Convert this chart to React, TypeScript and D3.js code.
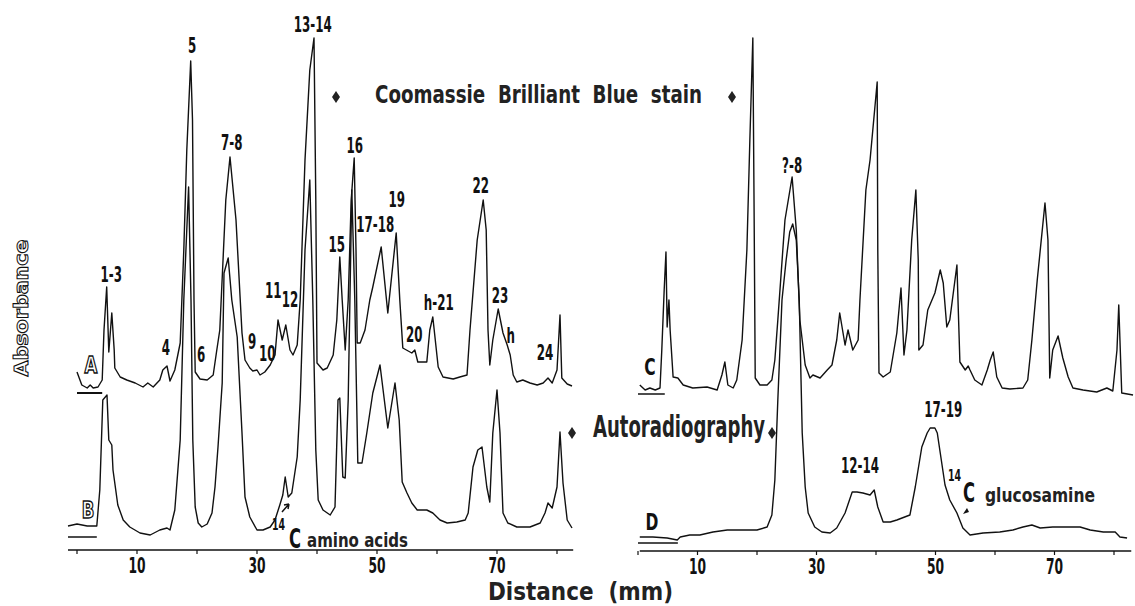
import * as d3 from 'd3'

const FONT = '"DejaVu Sans Condensed", "DejaVu Sans", sans-serif'

// distance (mm), absorbance (arbitrary units above each trace's own zero line)
const traceA: [number, number][] = [
  [0, 21], [0.8, 8], [1.7, 5], [2.2, 8], [2.7, 5], [3.5, 6], [4.2, 13], [4.5, 63], [4.95, 106],
  [5.3, 41], [5.8, 80], [6.2, 43], [6.3, 25], [7.2, 16], [8.3, 13], [9.7, 10], [11, 6], [11.8, 10],
  [12.7, 6], [13.8, 13], [14.3, 23], [15, 27], [15.5, 12], [16.3, 23], [17.2, 50], [17.8, 143],
  [18.3, 243], [18.95, 332], [19.25, 273], [19.5, 93], [19.7, 21], [20.5, 14], [21.7, 13], [22.7, 18],
  [23.3, 43], [23.8, 63], [24.8, 193], [25.5, 236], [26.5, 173], [27.5, 60], [28, 33], [28.8, 25],
  [29.3, 22], [30, 23], [30.5, 18], [31.3, 21], [32.2, 28], [33, 38], [33.5, 73], [34.2, 53],
  [34.8, 68], [35.5, 43], [36, 38], [36.7, 48], [37.2, 93], [38, 233], [38.8, 323], [39.5, 355],
  [39.8, 193], [40, 30], [41, 23], [41.7, 25], [42.7, 38], [43.3, 73], [43.8, 136], [44.2, 93],
  [44.7, 43], [45.2, 93], [45.7, 193], [46.2, 235], [46.5, 143], [46.7, 50], [47.2, 50], [48, 63],
  [48.8, 93], [49.3, 106], [50.7, 146], [51.8, 80], [53.2, 160], [53.8, 93], [54.3, 45], [55.8, 40],
  [56.3, 43], [56.8, 31], [58.3, 31], [58.8, 63], [59.3, 76], [60.2, 26], [61, 16], [62.7, 14],
  [63.8, 16], [65, 18], [65.5, 63], [66.7, 153], [67.7, 193], [68.2, 163], [68.5, 63], [68.8, 28],
  [69.3, 53], [70.2, 84], [71, 60], [71.7, 48], [72.2, 38], [72.7, 18], [73.3, 11], [74.3, 13],
  [75.5, 10], [76.7, 8], [77.7, 10], [78.5, 15], [79.2, 10], [80, 23], [80.5, 78], [80.8, 15],
  [81.7, 9], [82.5, 7],
]

const traceB: [number, number][] = [
  [-1.5, 11], [0, 13], [1.7, 11], [3.3, 11], [3.8, 47], [4.3, 137], [5, 142], [5.3, 97], [5.8, 92],
  [6, 67], [6.8, 32], [7.7, 17], [8.8, 10], [10.5, 4], [12.2, 2], [13.8, 7], [15, 9], [15.5, 7],
  [16.3, 27], [17.2, 97], [17.8, 237], [18.6, 350], [19, 237], [19.3, 97], [19.7, 30], [20.2, 14],
  [20.8, 10], [21.7, 13], [22.5, 24], [23, 50], [23.5, 90], [24.2, 154], [24.5, 264], [25.2, 279],
  [25.8, 237], [26.7, 200], [27.5, 104], [28, 40], [28.8, 20], [30, 7], [31, 7], [32.2, 10], [33, 17],
  [33.8, 32], [34.3, 42], [34.7, 60], [35.2, 40], [35.8, 44], [36.7, 80], [37.2, 137], [38, 287],
  [38.8, 357], [39.3, 237], [39.8, 87], [40.2, 37], [41, 27], [42.2, 22], [43, 30], [43.5, 137],
  [43.8, 139], [44.3, 60], [44.7, 59], [45.2, 137], [45.8, 347], [46.3, 237], [46.8, 74], [47.5, 74],
  [48.3, 104], [49.3, 144], [50.5, 172], [51.8, 109], [53, 154], [53.7, 117], [54.2, 55], [55, 44],
  [55.8, 34], [56.7, 27], [58.3, 27], [59.3, 24], [60.5, 17], [61.7, 14], [63.3, 15], [64.7, 17],
  [65.2, 24], [66, 70], [66.8, 87], [67.5, 90], [68.3, 50], [68.8, 35], [69.3, 104], [70, 147],
  [70.5, 104], [71, 24], [71.8, 14], [73.3, 10], [75.5, 10], [77.2, 14], [78, 24], [78.5, 34],
  [79.2, 29], [80, 50], [80.5, 105], [81, 54], [81.7, 17], [82.5, 9],
]

const traceC: [number, number][] = [
  [0.3, 9], [1.2, 4], [2, 6], [2.9, 4], [3.7, 6], [4, 44], [4.4, 104], [4.7, 142], [4.9, 67],
  [5.2, 94], [5.4, 64], [5.9, 17], [6.7, 16], [7.6, 9], [9.2, 6], [11.6, 7], [13.3, 4], [14.1, 19],
  [14.6, 32], [15.1, 9], [16, 6], [16.6, 14], [17.5, 54], [18.3, 144], [18.8, 254], [19.3, 356],
  [19.5, 194], [19.7, 16], [20.5, 9], [21.7, 9], [22.5, 14], [23, 34], [23.5, 74], [24.7, 174],
  [25.9, 217], [26.6, 164], [27.2, 74], [28.1, 29], [28.9, 16], [29.4, 19], [30.6, 16], [31.8, 24],
  [32.6, 29], [33.4, 54], [33.9, 81], [34.8, 49], [35.3, 64], [36.1, 44], [37, 54], [37.3, 94],
  [38.3, 204], [39, 234], [40.2, 312], [40.3, 144], [40.5, 21], [41.2, 17], [42.4, 22], [43.5, 61],
  [44.2, 106], [44.7, 39], [45.2, 64], [46, 154], [46.7, 204], [47.1, 134], [47.2, 44], [47.9, 49],
  [48.7, 84], [49.9, 101], [50.8, 124], [51.3, 111], [51.9, 67], [52.4, 74], [53.6, 129], [54.1, 32],
  [55, 24], [55.5, 28], [55.8, 24], [56.6, 14], [57.8, 9], [58.7, 24], [59.2, 34], [59.7, 42],
  [60.3, 17], [61.2, 6], [62.5, 5], [64.7, 6], [65.5, 14], [66.2, 54], [67.1, 114], [68.4, 191],
  [68.9, 154], [69.2, 16], [69.7, 44], [70.6, 58], [71.4, 36], [72.3, 17], [73.1, 6], [74.8, 4],
  [77.1, 2], [78.8, 6], [79.8, 3], [80.5, 44], [80.8, 89], [81.3, 1], [83.2, -1],
]

const traceD: [number, number][] = [
  [0.3, 6], [2.5, 6], [4.9, 5], [6.6, 3], [7.1, 6], [8.7, 8], [10.4, 8], [12.6, 11], [15, 13],
  [17.1, 13], [20, 13], [21.7, 16], [22.5, 28], [23, 63], [23.5, 143], [24.2, 243], [24.9, 283],
  [25.5, 311], [26, 319], [26.6, 303], [27.1, 243], [27.6, 110], [28.1, 56], [28.6, 30], [29.7, 16],
  [30.9, 11], [32.3, 10], [33.4, 15], [34.8, 30], [36, 51], [36.8, 51], [37.8, 50], [39, 48],
  [39.7, 53], [40.3, 36], [41.2, 21], [42.4, 21], [43.5, 23], [45.7, 28], [46.6, 56], [47.7, 96],
  [48.6, 110], [49.1, 115], [49.9, 115], [50.3, 110], [50.8, 90], [51.6, 58], [52.4, 43], [53.6, 30],
  [54.6, 15], [55.8, 8], [58, 10], [60.8, 11], [63, 13], [64.7, 16], [66.2, 18], [67.6, 15],
  [69.7, 16], [72.1, 16], [74.3, 16], [76, 13], [78.2, 11], [80.2, 11], [81, 6], [82.2, 5],
]

// peak labels: text, distance (mm), height of the label baseline
const labelsA: [string, number, number][] = [
  ['1-3', 5.7, 111], ['4', 14.8, 38], ['5', 19.2, 340], ['6', 20.7, 31], ['7-8', 25.8, 243],
  ['9', 29.2, 44], ['10', 31.7, 32], ['11', 32.7, 95], ['12', 35.5, 86], ['13-14', 39.3, 361],
  ['15', 43.3, 141], ['16', 46.3, 240], ['17-18', 49.7, 161], ['19', 53.3, 186], ['20', 56.2, 51],
  ['h-21', 60.3, 83], ['22', 67.3, 200], ['23', 70.5, 90], ['h', 72.3, 50], ['24', 78, 33],
]
const labelsC: [string, number, number][] = [['?-8', 25.9, 221]]
const labelsD: [string, number, number][] = [['12-14', 37.3, 70], ['17-19', 51.3, 126]]

const tickValues = [0, 10, 20, 30, 40, 50, 60, 70, 80]
const tickLabels = [10, 30, 50, 70]

const xLeft = d3.scaleLinear().domain([0, 80]).range([77, 557])
const xRight = d3.scaleLinear().domain([0, 80]).range([638, 1114])
const yA = d3.scaleLinear().domain([0, 100]).range([393, 293])
const yB = d3.scaleLinear().domain([0, 100]).range([537, 437])
const yC = d3.scaleLinear().domain([0, 100]).range([394, 294])
const yD = d3.scaleLinear().domain([0, 100]).range([543, 443])

function Txt({ x, y, text, size = 22, sx = 0.6, anchor = 'middle', hollow = false }: any) {
  return (
    <text
      transform={`translate(${x},${y}) scale(${sx},1)`}
      textAnchor={anchor}
      fontSize={size}
      fontWeight="bold"
      fontFamily={FONT}
      fill={hollow ? 'none' : '#111'}
      stroke={hollow ? '#111' : 'none'}
      strokeWidth={hollow ? 1.4 : 0}
    >
      {text}
    </text>
  )
}

function Trace({ data, x, y }: any) {
  const line = d3.line<[number, number]>().x(d => x(d[0])).y(d => y(d[1]))
  return <path d={line(data) || ''} fill="none" stroke="#111" strokeWidth={1.4} strokeLinejoin="round" />
}

function Axis({ x, y0, from, to }: any) {
  return (
    <g>
      <line x1={x(from)} x2={x(to)} y1={y0} y2={y0} stroke="#111" strokeWidth={1.5} />
      {tickValues.map(t => (
        <line key={t} x1={x(t)} x2={x(t)} y1={y0} y2={y0 + 4} stroke="#111" strokeWidth={1.2} />
      ))}
      {tickLabels.map(t => (
        <Txt key={t} x={x(t)} y={y0 + 23} text={String(t)} size={21} sx={0.65} />
      ))}
    </g>
  )
}

function Diamond({ x, y }: any) {
  return <path d={`M${x},${y - 6}L${x + 4},${y}L${x},${y + 6}L${x - 4},${y}Z`} fill="#222" />
}

function Word({ x, y, w, text, size }: any) {
  return (
    <text x={x} y={y} textLength={w} lengthAdjust="spacingAndGlyphs" fontSize={size}
      fontWeight="bold" fontFamily={FONT} fill="#222" style={{ whiteSpace: 'pre' }}>
      {text}
    </text>
  )
}

export default function App() {
  return (
    <svg width={1135} height={606} style={{ position: 'absolute', left: 0, top: 0, background: '#fff' }}>
      <rect width={1135} height={606} fill="#fff" />

      {/* zero-line marks under each trace */}
      <line x1={xLeft(0)} x2={xLeft(4.2)} y1={yA(0)} y2={yA(0)} stroke="#111" strokeWidth={2} />
      <line x1={xLeft(-1.5)} x2={xLeft(3.3)} y1={yB(0)} y2={yB(0)} stroke="#111" strokeWidth={1.5} />
      <line x1={xRight(0)} x2={xRight(4.5)} y1={yC(0)} y2={yC(0)} stroke="#111" strokeWidth={1.5} />
      <line x1={xRight(0)} x2={xRight(6.7)} y1={yD(0)} y2={yD(0)} stroke="#111" strokeWidth={1.5} />

      <Trace data={traceA} x={xLeft} y={yA} />
      <Trace data={traceB} x={xLeft} y={yB} />
      <Trace data={traceC} x={xRight} y={yC} />
      <Trace data={traceD} x={xRight} y={yD} />

      <Axis x={xLeft} y0={550} from={-1.5} to={82.7} />
      <Axis x={xRight} y0={551} from={0.3} to={82.9} />

      {labelsA.map(([t, mm, h]) => <Txt key={t} x={xLeft(mm)} y={yA(h)} text={t} />)}
      {labelsC.map(([t, mm, h]) => <Txt key={t} x={xRight(mm)} y={yC(h)} text={t} />)}
      {labelsD.map(([t, mm, h]) => <Txt key={t} x={xRight(mm)} y={yD(h)} text={t} />)}

      <Txt x={91} y={373} text="A" size={23} sx={0.8} hollow />
      <Txt x={88} y={518} text="B" size={23} sx={0.8} hollow />
      <Txt x={650} y={375} text="C" size={23} sx={0.75} />
      <Txt x={652} y={530} text="D" size={23} sx={0.75} />

      {/* stain / autoradiography headings */}
      <Diamond x={336} y={97} />
      <Word x={375} y={103} w={327} text="Coomassie  Brilliant  Blue  stain" size={25} />
      <Diamond x={732} y={97} />

      <Diamond x={572} y={433} />
      <Word x={593} y={437} w={172} text="Autoradiography" size={30} />
      <Diamond x={772} y={433} />

      {/* 14C annotations */}
      <Txt x={272} y={530} text="14" size={15} sx={0.7} anchor="start" />
      <Txt x={289} y={548} text="C" size={26} sx={0.7} anchor="start" />
      <Word x={307} y={547} w={101} text="amino acids" size={19} />
      <path d="M282,512L289,504M289,504L284,505M289,504L288,509" stroke="#111" strokeWidth={1.5} fill="none" />

      <Txt x={948} y={481} text="14" size={15} sx={0.7} anchor="start" />
      <Txt x={963} y={502} text="C" size={26} sx={0.7} anchor="start" />
      <Word x={985} y={502} w={110} text="glucosamine" size={19} />
      <path d="M963,514L967,508L969,512Z" fill="#111" />

      {/* axis titles */}
      <Word x={488} y={600} w={185} text="Distance  (mm)" size={25} />
      <text transform="translate(28,308) rotate(-90)" textAnchor="middle" textLength={137}
        lengthAdjust="spacingAndGlyphs" fontSize={19} fontWeight="bold" fontFamily={FONT}
        fill="none" stroke="#111" strokeWidth={1}>
        Absorbance
      </text>
    </svg>
  )
}
